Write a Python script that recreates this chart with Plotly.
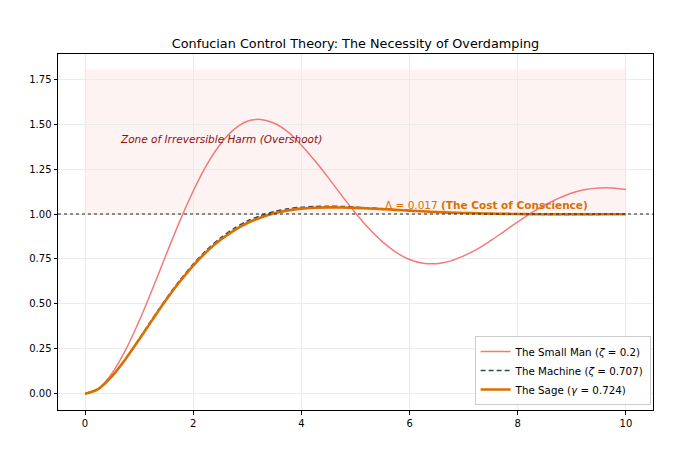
import plotly.graph_objects as go

# ---- data ----
t_vals = [0.0, 0.25, 0.5, 0.75, 1.0, 1.25, 1.5, 1.75, 2.0, 2.25, 2.5, 2.75, 3.0, 3.25,
          3.5, 3.75, 4.0, 4.25, 4.5, 4.75, 5.0, 5.25, 5.5, 5.75, 6.0, 6.25, 6.5, 6.75,
          7.0, 7.25, 7.5, 7.75, 8.0, 8.25, 8.5, 8.75, 9.0, 9.25, 9.5, 9.75, 10.0]

y_small = [0.000, 0.030, 0.115, 0.244, 0.405, 0.586, 0.775, 0.959, 1.128, 1.273, 1.388,
           1.469, 1.516, 1.526, 1.505, 1.457, 1.383, 1.296, 1.201, 1.101, 1.006, 0.919,
           0.845, 0.787, 0.747, 0.726, 0.724, 0.738, 0.767, 0.805, 0.852, 0.904, 0.956,
           1.006, 1.050, 1.087, 1.117, 1.136, 1.145, 1.145, 1.136]

y_machine = [0.000, 0.028, 0.098, 0.195, 0.305, 0.419, 0.529, 0.631, 0.722, 0.800, 0.866,
             0.919, 0.961, 0.991, 1.014, 1.029, 1.038, 1.042, 1.043, 1.042, 1.038, 1.034,
             1.029, 1.024, 1.019, 1.015, 1.011, 1.008, 1.005, 1.003, 1.001, 1.000, 0.999,
             0.999, 0.998, 0.998, 0.998, 0.998, 0.998, 0.999, 0.999]

y_sage = [0.000, 0.028, 0.098, 0.194, 0.302, 0.414, 0.523, 0.623, 0.713, 0.791, 0.855,
          0.908, 0.950, 0.981, 1.004, 1.020, 1.030, 1.035, 1.037, 1.036, 1.034, 1.031,
          1.027, 1.023, 1.019, 1.015, 1.011, 1.008, 1.006, 1.004, 1.002, 1.001, 1.000,
          0.999, 0.999, 0.999, 0.999, 0.999, 0.999, 0.999, 0.999]

names = ["The Small Man (<i>ζ</i> = 0.2)",
         "The Machine (<i>ζ</i> = 0.707)",
         "The Sage (<i>γ</i> = 0.724)"]
x_ticks = [0, 2, 4, 6, 8, 10]
y_ticks = [0.0, 0.25, 0.5, 0.75, 1.0, 1.25, 1.5, 1.75]
zone = dict(x0=0, x1=10, y0=1.0, y1=1.8)
delta_label = "Δ = 0.017 <b>(The Cost of Conscience)</b>"
zone_label = "<i>Zone of Irreversible Harm (Overshoot)</i>"
title = "Confucian Control Theory: The Necessity of Overdamping"

FONT = "DejaVu Sans"
C_SMALL = "rgba(238,100,100,0.85)"
C_MACH = "#34495e"
C_SAGE = "#d97000"

fig = go.Figure()
fig.add_trace(go.Scatter(x=t_vals, y=y_small, mode="lines", name=names[0],
                         line=dict(color=C_SMALL, width=1.5, shape="spline", smoothing=0.8)))
fig.add_trace(go.Scatter(x=t_vals, y=y_machine, mode="lines", name=names[1],
                         line=dict(color=C_MACH, width=1.5, dash="5px,3px", shape="spline", smoothing=0.8)))
fig.add_trace(go.Scatter(x=t_vals, y=y_sage, mode="lines", name=names[2],
                         line=dict(color=C_SAGE, width=2.6, shape="spline", smoothing=0.8)))

# shaded overshoot zone
fig.add_shape(type="rect", xref="x", yref="y", x0=zone["x0"], x1=zone["x1"],
              y0=zone["y0"], y1=zone["y1"], fillcolor="rgba(240,80,80,0.07)",
              line=dict(width=0.6, color="rgba(240,80,80,0.09)"), layer="below")
# reference line at 1
fig.add_shape(type="line", xref="paper", yref="y", x0=0, x1=1, y0=1, y1=1,
              line=dict(color="#222222", width=1.1, dash="dot"), layer="above")

fig.add_annotation(x=0.6, y=1.42, xref="x", yref="y", text=zone_label, showarrow=False,
                   xanchor="left", yanchor="middle",
                   font=dict(family=FONT, size=10.5, color="#8b1010"))
fig.add_annotation(x=5.5, y=1.05, xref="x", yref="y", text=delta_label, showarrow=False,
                   xanchor="left", yanchor="middle",
                   font=dict(family=FONT, size=10.5, color=C_SAGE))

axis_common = dict(showline=True, linecolor="black", linewidth=1, mirror=True,
                   ticks="outside", ticklen=3.5, tickwidth=1, tickcolor="black",
                   showgrid=True, gridcolor="#ebebeb", gridwidth=1, zeroline=False,
                   tickfont=dict(family=FONT, size=10, color="black"))

fig.update_layout(
    width=690, height=460,
    margin=dict(l=58, r=37, t=54, b=50),
    paper_bgcolor="white", plot_bgcolor="white",
    title=dict(text=title, x=0.5, xref="paper", xanchor="center",
               y=1 - 44 / 460, yref="container", yanchor="middle",
               font=dict(family=FONT, size=12.8, color="black")),
    xaxis=dict(range=[-0.5, 10.5], tickvals=x_ticks, **axis_common),
    yaxis=dict(range=[-0.09, 1.89], tickvals=y_ticks, tickformat=".2f", **axis_common),
    legend=dict(x=0.996, y=0.014, xanchor="right", yanchor="bottom",
                bgcolor="rgba(255,255,255,0.85)", bordercolor="#cccccc", borderwidth=1,
                font=dict(family=FONT, size=10.3, color="black"),
                tracegroupgap=0, itemwidth=30),
    showlegend=True,
)

fig.write_html("out.html")
